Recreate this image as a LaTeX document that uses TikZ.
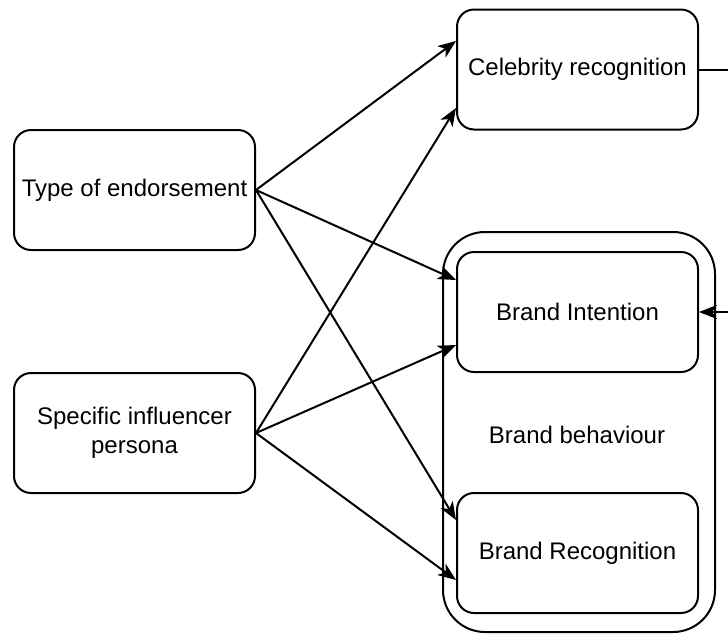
\documentclass[tikz,border=0pt]{standalone}
\usepackage{fontspec}
\setmainfont{Liberation Sans}
\usetikzlibrary{arrows.meta}
\begin{document}
\begin{tikzpicture}[x=1pt,y=-1pt,
  box/.style={draw=black, line width=2pt, rounded corners=17pt, fill=white,
    minimum width=241pt, minimum height=120pt, align=center, inner sep=0pt,
    font=\fontsize{24}{29}\selectfont},
  group/.style={draw=black, line width=2pt, rounded corners=42pt,
    minimum width=272pt, minimum height=400pt, inner sep=0pt},
  arr/.style={line width=2pt, -{Stealth[length=18pt,width=14pt,inset=5pt]}},
  conn/.style={line width=2pt}]
\useasboundingbox (0,0) rectangle (728,633);
\clip (0,0) rectangle (728,633);

% container for the two brand outcomes
\node[group] (beh) at (579,432) {};
\node[font=\fontsize{24}{29}\selectfont] (behlbl) at (577,435) {Brand behaviour};

% boxes
\node[box] (cel) at (577.5,69.5) {Celebrity recognition};
\node[box] (toe) at (134.5,190) {Type of endorsement};
\node[box] (sip) at (134.5,433) {Specific influencer\\persona};
\node[box] (bi)  at (577.5,312) {Brand Intention};
\node[box] (br)  at (577.5,553) {Brand Recognition};

% influences
\draw[arr] (toe.east) -- ([yshift=28.5pt]cel.west);
\draw[arr] (sip.east) -- ([yshift=-38.5pt]cel.west);
\draw[arr] (toe.east) -- ([yshift=32pt]bi.west);
\draw[arr] (sip.east) -- ([yshift=-33pt]bi.west);
\draw[arr] (toe.east) -- ([yshift=33pt]br.west);
\draw[arr] (sip.east) -- ([yshift=-27pt]br.west);

% feedback from celebrity recognition to brand intention
\draw[arr] (cel.east) -- ++(45,0) |- (bi.east);
\end{tikzpicture}
\end{document}
